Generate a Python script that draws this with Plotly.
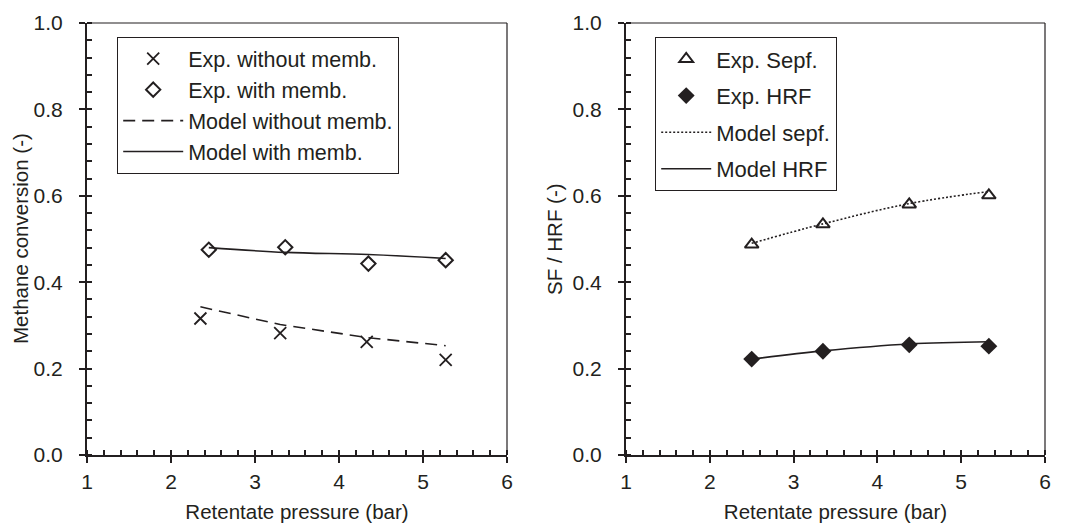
import plotly.graph_objects as go

# ---- data ----
p_exp_wo = [2.35, 3.3, 4.33, 5.27]
conv_exp_wo = [0.316, 0.282, 0.262, 0.220]
p_exp_w = [2.45, 3.36, 4.35, 5.27]
conv_exp_w = [0.475, 0.481, 0.443, 0.451]
p_model_wo = [2.35, 3.3, 4.33, 5.27]
conv_model_wo = [0.343, 0.302, 0.272, 0.253]
p_model_w = [2.45, 3.36, 4.35, 5.27]
conv_model_w = [0.480, 0.469, 0.464, 0.455]

p_right = [2.5, 3.35, 4.38, 5.33]
sepf_exp = [0.487, 0.534, 0.580, 0.601]
hrf_exp = [0.222, 0.240, 0.255, 0.252]
sepf_model = [0.490, 0.535, 0.582, 0.610]
hrf_model = [0.222, 0.241, 0.257, 0.262]

xticks = [1, 2, 3, 4, 5, 6]
yticks = [0.0, 0.2, 0.4, 0.6, 0.8, 1.0]

INK = "#231f20"
FONT = "Liberation Sans, Arial, sans-serif"
TICK_SIZE = 21
TITLE_SIZE = 20.5
LEG_SIZE = 21.5

W, H = 1072, 524
L1, R1 = 87 / W, 507 / W
L2, R2 = 626 / W, 1045 / W
B, T = 1 - 455 / H, 1 - 23 / H

fig = go.Figure()

# left panel
fig.add_trace(go.Scatter(x=p_exp_wo, y=conv_exp_wo, mode="markers", name="Exp. without memb.",
                         marker=dict(symbol="x-thin-open", size=12, color=INK, line=dict(color=INK, width=1.8)),
                         xaxis="x", yaxis="y", legend="legend", legendgroup="a"))
fig.add_trace(go.Scatter(x=p_exp_w, y=conv_exp_w, mode="markers", name="Exp. with memb.",
                         marker=dict(symbol="diamond-open", size=11, color=INK, line=dict(color=INK, width=2)),
                         xaxis="x", yaxis="y", legend="legend", legendgroup="b"))
fig.add_trace(go.Scatter(x=p_model_wo, y=conv_model_wo, mode="lines", name="Model without memb.",
                         line=dict(color=INK, width=1.6, dash="12px,7px"),
                         xaxis="x", yaxis="y", legend="legend", legendgroup="c"))
fig.add_trace(go.Scatter(x=p_model_w, y=conv_model_w, mode="lines", name="Model with memb.",
                         line=dict(color=INK, width=1.6, shape="spline"),
                         xaxis="x", yaxis="y", legend="legend", legendgroup="d"))

# right panel
fig.add_trace(go.Scatter(x=p_right, y=sepf_model, mode="lines", name="Model sepf.",
                         line=dict(color=INK, width=1.6, dash="2px,2px", shape="spline"),
                         xaxis="x2", yaxis="y2", legend="legend2", legendgroup="g", legendrank=3))
fig.add_trace(go.Scatter(x=p_right, y=hrf_model, mode="lines", name="Model HRF",
                         line=dict(color=INK, width=1.6, shape="spline"),
                         xaxis="x2", yaxis="y2", legend="legend2", legendgroup="h", legendrank=4))
fig.add_trace(go.Scatter(x=p_right, y=sepf_exp, mode="markers", name="Exp. Sepf.",
                         marker=dict(symbol="triangle-up-open", size=12, color=INK, line=dict(color=INK, width=2)),
                         xaxis="x2", yaxis="y2", legend="legend2", legendgroup="e", legendrank=1))
fig.add_trace(go.Scatter(x=p_right, y=hrf_exp, mode="markers", name="Exp. HRF",
                         marker=dict(symbol="diamond", size=13, color=INK, line=dict(color=INK, width=0)),
                         xaxis="x2", yaxis="y2", legend="legend2", legendgroup="f", legendrank=2))

axis_common = dict(showgrid=False, zeroline=False, showline=True, linecolor=INK, linewidth=2,
                   ticks="outside", ticklen=6, tickwidth=1.5, tickcolor=INK,
                   tickfont=dict(family=FONT, size=TICK_SIZE, color=INK),
                   mirror=False, automargin=False)
xcommon = dict(axis_common, range=[1, 6], tickvals=xticks, ticklabelstandoff=1,
               minor=dict(dtick=0.2, ticks="inside", ticklen=5, tickwidth=1.5, tickcolor=INK),
               title=dict(text="Retentate pressure (bar)", font=dict(family=FONT, size=TITLE_SIZE, color=INK),
                          standoff=12))
ycommon = dict(axis_common, range=[0, 1], tickvals=yticks, tickformat=".1f", ticklabelstandoff=12,
               minor=dict(dtick=0.04, ticks="inside", ticklen=5, tickwidth=1.5, tickcolor=INK))

fig.update_layout(
    width=W, height=H, margin=dict(l=0, r=0, t=0, b=0),
    paper_bgcolor="white", plot_bgcolor="white",
    font=dict(family=FONT, size=TICK_SIZE, color=INK),
    xaxis=dict(xcommon, domain=[L1, R1], anchor="y"),
    yaxis=dict(ycommon, domain=[B, T], anchor="x"),
    xaxis2=dict(xcommon, domain=[L2, R2], anchor="y2"),
    yaxis2=dict(ycommon, domain=[B, T], anchor="x2"),
    legend=dict(x=117 / W, y=1 - 37 / H, xanchor="left", yanchor="top", bgcolor="white",
                bordercolor=INK, borderwidth=1.2, font=dict(family=FONT, size=LEG_SIZE, color=INK),
                tracegroupgap=0, traceorder="grouped", itemwidth=60),
    legend2=dict(x=655 / W, y=1 - 37 / H, xanchor="left", yanchor="top", bgcolor="white",
                 bordercolor=INK, borderwidth=1.2, font=dict(family=FONT, size=22, color=INK),
                 tracegroupgap=5, traceorder="grouped", itemwidth=50),
    showlegend=True,
)

# y-axis titles
fig.add_annotation(text="Methane conversion (-)", textangle=-90, showarrow=False,
                   xref="paper", yref="y domain", x=20 / W, y=0.5, xanchor="center", yanchor="middle",
                   font=dict(family=FONT, size=TITLE_SIZE, color=INK))
fig.add_annotation(text="SF / HRF (-)", textangle=-90, showarrow=False,
                   xref="paper", yref="y2 domain", x=554 / W, y=0.5, xanchor="center", yanchor="middle",
                   font=dict(family=FONT, size=TITLE_SIZE, color=INK))

# thin top/right frame lines
for xr, yr in (("x domain", "y domain"), ("x2 domain", "y2 domain")):
    fig.add_shape(type="line", xref=xr, yref=yr, x0=0, x1=1, y0=1, y1=1, line=dict(color=INK, width=1.2))
    fig.add_shape(type="line", xref=xr, yref=yr, x0=1, x1=1, y0=0, y1=1, line=dict(color=INK, width=1.2))

fig.write_html("out.html")
